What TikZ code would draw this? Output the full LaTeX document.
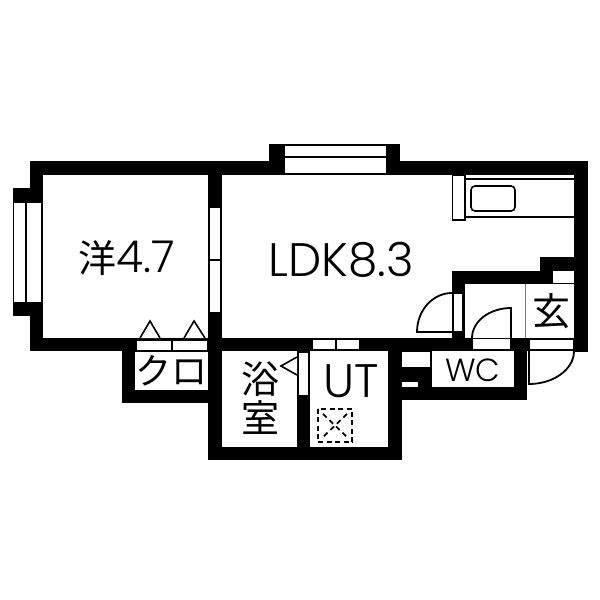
\documentclass[tikz,border=0pt]{standalone}
\usepackage{fontspec}
\setmainfont{Poppins Light}
\newfontfamily\cjk{Noto Sans CJK JP}
\usetikzlibrary{positioning}
\tikzset{
	wall/.style={fill=black, draw=none},
	panel/.style={fill=white, draw=black, line width=1.3pt},
	fixture/.style={draw=black, line width=1.6pt},
	swing/.style={draw=black, line width=1.8pt},
	roomlabel/.style={inner sep=0pt, font=\fontsize{47}{47}\selectfont},
	kanji/.style={inner sep=0pt, font=\fontsize{38}{38}\selectfont\cjk}
}

\begin{document}
\begin{tikzpicture}[x=1pt, y=-1pt]
	\useasboundingbox (0, 0) rectangle (600, 600);

	% walls
	\fill[wall] (30, 161) rectangle (588, 175);
	\fill[wall] (30, 161) rectangle (43, 351);
	\fill[wall] (13, 188) rectangle (43, 202);
	\fill[wall] (13, 303) rectangle (43, 316);
	\fill[wall] (269, 144) rectangle (400, 175);
	\fill[wall] (574, 161) rectangle (588, 352);
	\fill[wall] (208, 175) rectangle (222, 460);
	\fill[wall] (30, 338) rectangle (529, 351);
	\fill[wall] (122, 338) rectangle (135, 403);
	\fill[wall] (122, 390) rectangle (222, 403);
	\fill[wall] (208, 447) rectangle (402, 460);
	\fill[wall] (297, 338) rectangle (310, 460);
	\fill[wall] (388, 338) rectangle (402, 460);
	\fill[wall] (402, 338) rectangle (432, 400);
	\fill[wall] (402, 387) rectangle (527, 400);
	\fill[wall] (514, 338) rectangle (527, 400);
	\fill[wall] (452, 271) rectangle (574, 284);
	\fill[wall] (540, 257) rectangle (574, 271);
	\fill[wall] (452, 271) rectangle (465, 351);

	% windows
	\draw[panel] (13.5, 202) rectangle (26, 303);
	\draw[panel] (26, 202) rectangle (42, 303);
	\draw[panel] (284, 145.5) rectangle (386.5, 157);
	\draw[panel] (284, 157) rectangle (386.5, 173.5);
	\draw[panel] (209, 207) rectangle (221, 260);
	\draw[panel] (209, 260) rectangle (221, 313);
	\draw[panel] (298, 352) rectangle (309, 396);
	\draw[panel] (453, 293) rectangle (463, 332);
	\fill[white] (553, 271) rectangle (574, 283);
	\draw[panel] (136, 340) rectangle (172, 351);
	\draw[panel] (172, 340) rectangle (208, 351);
	\draw[panel] (312, 339) rectangle (336, 350);
	\draw[panel] (336, 339) rectangle (360, 350);
	\draw[panel] (472, 338.5) rectangle (511, 350);
	\draw[panel] (529, 339) rectangle (574, 350);
	\fill[white] (402, 352) rectangle (430, 367);
	\fill[white] (402, 382) rectangle (418, 387);

	% kitchen
	\draw[panel, line width=1.6pt] (452.5, 175) rectangle (465, 220);
	\draw[fixture] (465, 179) -- (574, 179);
	\draw[fixture] (465, 217) -- (574, 217);
	\draw[fixture, rounded corners=4pt] (471, 186) rectangle (515, 211);

	% closet doors
	\draw[fixture, fill=white] (140, 338) -- (150, 321) -- (160, 338);
	\draw[fixture, fill=white] (184, 338) -- (194, 321) -- (205, 338);
	\draw[fixture, fill=white] (297, 357) -- (281, 366) -- (297, 375);

	% door swings
	\draw[swing] (452, 293) arc[start angle=90, end angle=180, x radius=35pt, y radius=39pt] -- (452, 332);
	\draw[swing] (511, 338) -- (511, 308) arc[start angle=90, end angle=180, x radius=39pt, y radius=30pt];
	\draw[swing] (529, 351) -- (529, 384) arc[start angle=-90, end angle=0, x radius=45pt, y radius=33pt];
	\draw[gray, line width=1pt] (525.5, 284) -- (525.5, 338);

	% washer
	\draw[fixture, line width=2pt, dash pattern=on 5pt off 3.5pt] (317.5, 408.5) rectangle (352, 442);
	\draw[fixture, line width=1.8pt, dash pattern=on 5pt off 4pt] (323, 414) -- (347, 437);
	\draw[fixture, line width=1.8pt, dash pattern=on 5pt off 4pt] (347, 414) -- (323, 437);

	% labels
	\node[roomlabel, font=\fontsize{44}{44}\selectfont] (western) at (127, 258) {{\fontsize{38}{38}\selectfont\cjk 洋}4.7};
	\node[roomlabel] (ldk) at (341, 260) {LDK8.3};
	\node[roomlabel] (ut) at (351, 381) {UT};
	\node[roomlabel, font=\fontsize{32}{32}\selectfont] (wc) at (473, 370) {WC};
	\node[kanji] (entry) at (551, 311) {玄};
	\node[kanji] (bath) at (260, 379) {浴};
	\node[kanji] (bathb) at (260, 418) {室};
	\node[kanji, font=\fontsize{36}{36}\selectfont\cjk] (closet) at (171, 371) {クロ};
\end{tikzpicture}
\end{document}
